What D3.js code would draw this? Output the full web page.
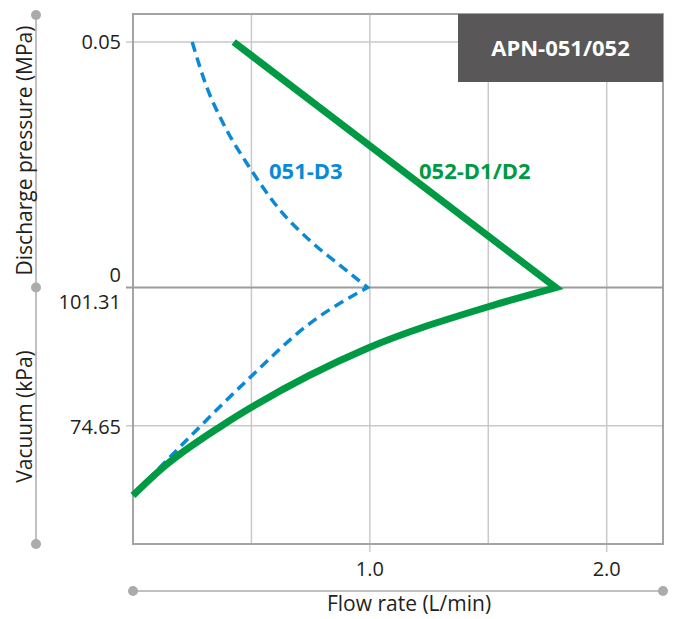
<!DOCTYPE html>
<html>
<head>
<meta charset="utf-8">
<script src="https://cdn.jsdelivr.net/npm/d3@7"></script>
<style>
  html, body { margin: 0; padding: 0; background: #ffffff; }
  svg { display: block; }
  text { font-family: "Open Sans", "Noto Sans", sans-serif; }
</style>
</head>
<body>
<svg id="chart" width="675" height="619"></svg>
<script>
// ---------------- data ----------------
const chartTitle = "APN-051/052";
const xTickValues = [1.0, 2.0];
const xGridValues = [0.5, 1.0, 1.5, 2.0];
const pressureTicks = [0, 0.05];          // MPa (discharge)
const vacuumTicks = [101.31, 74.65];      // kPa (vacuum, absolute)

// 051-D3 discharge branch (flow L/min, pressure MPa)
const d3DischargeFlow = [0.25, 0.31, 0.38, 0.49, 0.62, 0.76, 0.89, 0.99];
const d3DischargeMPa  = [0.05, 0.041, 0.0335, 0.0246, 0.0158, 0.009, 0.0039, 0];
// 051-D3 vacuum branch (flow L/min, kPa)
const d3VacuumFlow = [0.99, 0.75, 0.47, 0.24, 0];
const d3VacuumKPa  = [101.31, 94.5, 82.9, 72.5, 61.2];

// 052-D1/D2 discharge branch
const d12DischargeFlow = [0.425, 1.785];
const d12DischargeMPa  = [0.05, 0];
// 052-D1/D2 vacuum branch
const d12VacuumFlow = [1.785, 1.50, 0.99, 0.50, 0.375, 0.13, 0];
const d12VacuumKPa  = [101.31, 97.6, 89.6, 78.2, 74.65, 66.7, 61.2];

const seriesLabels = ["051-D3", "052-D1/D2"];

// ---------------- layout ----------------
const plot = { left: 133, right: 663, top: 14, bottom: 544 };
const colors = { blue: "#0a8ad6", green: "#009a44", grid: "#c9c9c9", frame: "#a4a4a4",
                 zero: "#9c9c9c", text: "#231f20", deco: "#ababab", box: "#595757" };

const svg = d3.select("#chart");

const x = d3.scaleLinear().domain([0, 2]).range([plot.left, 606.7]);
const yP = d3.scaleLinear().domain([0, 0.05]).range([287.5, 42]);
const yV = d3.scaleLinear().domain([101.31, 74.65]).range([287.5, 425.7]);

// gridlines
svg.append("g").selectAll("line").data(xGridValues).join("line")
  .attr("x1", d => x(d)).attr("x2", d => x(d))
  .attr("y1", plot.top).attr("y2", d => xTickValues.includes(d) ? plot.bottom + 8 : plot.bottom)
  .attr("stroke", colors.grid).attr("stroke-width", 1.5);

svg.append("line")
  .attr("x1", plot.left - 7).attr("x2", plot.right)
  .attr("y1", yP(0.05)).attr("y2", yP(0.05))
  .attr("stroke", colors.grid).attr("stroke-width", 1.5);
svg.append("line")
  .attr("x1", plot.left - 7).attr("x2", plot.right)
  .attr("y1", yV(74.65)).attr("y2", yV(74.65))
  .attr("stroke", colors.grid).attr("stroke-width", 1.5);

// frame
svg.append("rect")
  .attr("x", plot.left).attr("y", plot.top)
  .attr("width", plot.right - plot.left).attr("height", plot.bottom - plot.top)
  .attr("fill", "none").attr("stroke", colors.frame).attr("stroke-width", 2);

// zero line
svg.append("line")
  .attr("x1", plot.left - 7).attr("x2", plot.right)
  .attr("y1", yP(0)).attr("y2", yP(0))
  .attr("stroke", colors.zero).attr("stroke-width", 2);

// title box
svg.append("rect")
  .attr("x", 458).attr("y", plot.top).attr("width", plot.right - 458).attr("height", 68)
  .attr("fill", colors.box);
svg.append("text")
  .attr("x", 560.5).attr("y", 55.5).attr("text-anchor", "middle")
  .attr("font-size", 22).attr("font-weight", 700).attr("fill", "#ffffff")
  .text(chartTitle);

// ---------------- curves ----------------
const lineLinear = d3.line();
const lineCurve = d3.line().curve(d3.curveMonotoneX);

const toPts = (fl, vals, ys) => fl.map((f, i) => [x(f), ys(vals[i])]);

// blue dashed
const blueD = lineCurve(toPts(d3DischargeFlow, d3DischargeMPa, yP));
const blueV = lineCurve(toPts(d3VacuumFlow, d3VacuumKPa, yV)).replace(/^M/, "L");
svg.append("path")
  .attr("d", blueD + blueV)
  .attr("fill", "none").attr("stroke", colors.blue).attr("stroke-width", 3.5)
  .attr("stroke-dasharray", "10,6").attr("stroke-linejoin", "miter");

// green solid
const greenD = lineLinear(toPts(d12DischargeFlow, d12DischargeMPa, yP));
const greenV = lineCurve(toPts(d12VacuumFlow, d12VacuumKPa, yV)).replace(/^M/, "L");
svg.append("path")
  .attr("d", greenD + greenV)
  .attr("fill", "none").attr("stroke", colors.green).attr("stroke-width", 7)
  .attr("stroke-linejoin", "miter").attr("stroke-miterlimit", 10);

// series labels
svg.append("text").attr("x", 269).attr("y", 179)
  .attr("font-size", 22).attr("font-weight", 700).attr("fill", colors.blue)
  .text(seriesLabels[0]);
svg.append("text").attr("x", 419).attr("y", 179)
  .attr("font-size", 22).attr("font-weight", 700).attr("fill", colors.green)
  .text(seriesLabels[1]);

// ---------------- tick labels ----------------
svg.append("g").selectAll("text").data(xTickValues).join("text")
  .attr("x", d => x(d)).attr("y", 576).attr("text-anchor", "middle")
  .attr("font-size", 20).attr("fill", colors.text)
  .text(d => d3.format(".1f")(d));

svg.append("text").attr("x", 121).attr("y", yP(0.05) + 7).attr("text-anchor", "end")
  .attr("font-size", 20).attr("fill", colors.text).text(String(pressureTicks[1]));
svg.append("text").attr("x", 121).attr("y", yP(0) - 6).attr("text-anchor", "end")
  .attr("font-size", 20).attr("fill", colors.text).text(String(pressureTicks[0]));
svg.append("text").attr("x", 121).attr("y", yV(101.31) + 21).attr("text-anchor", "end")
  .attr("font-size", 20).attr("fill", colors.text).text(vacuumTicks[0].toFixed(2));
svg.append("text").attr("x", 121).attr("y", yV(74.65) + 8).attr("text-anchor", "end")
  .attr("font-size", 20).attr("fill", colors.text).text(vacuumTicks[1].toFixed(2));

// ---------------- decorative axes ----------------
const deco = svg.append("g");
deco.append("line").attr("x1", 36).attr("x2", 36).attr("y1", 15).attr("y2", 544)
  .attr("stroke", colors.deco).attr("stroke-width", 1.5);
deco.selectAll("circle.v").data([15, 287.5, 544]).join("circle")
  .attr("cx", 36).attr("cy", d => d).attr("r", 5).attr("fill", colors.deco);
deco.append("line").attr("x1", 133).attr("x2", 663).attr("y1", 591).attr("y2", 591)
  .attr("stroke", colors.deco).attr("stroke-width", 1.5);
deco.selectAll("circle.h").data([133, 663]).join("circle")
  .attr("cx", d => d).attr("cy", 591).attr("r", 5).attr("fill", colors.deco);

// axis titles
svg.append("text").attr("transform", "translate(32,150.5) rotate(-90)")
  .attr("text-anchor", "middle").attr("font-size", 21).attr("fill", colors.text)
  .text("Discharge pressure (MPa)");
svg.append("text").attr("transform", "translate(32,416.5) rotate(-90)")
  .attr("text-anchor", "middle").attr("font-size", 21).attr("fill", colors.text)
  .text("Vacuum (kPa)");
svg.append("text").attr("x", 409).attr("y", 611).attr("text-anchor", "middle")
  .attr("font-size", 21).attr("fill", colors.text)
  .text("Flow rate (L/min)");
</script>
</body>
</html>
